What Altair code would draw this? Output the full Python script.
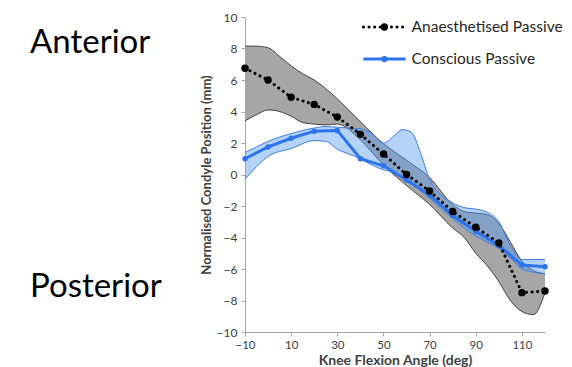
import altair as alt
import pandas as pd

# Mean curves
angles = [-10, 0, 10, 20, 30, 40, 50, 60, 70, 80, 90, 100, 110, 120]
anaesthetised = [6.75, 6.0, 4.9, 4.45, 3.65, 2.55, 1.3, 0.0, -1.05, -2.35, -3.35, -4.35, -7.5, -7.4]
conscious = [1.0, 1.75, 2.3, 2.75, 2.8, 1.0, 0.55, -0.35, -1.3, -2.6, -3.6, -4.5, -5.75, -5.85]

# Anaesthetised band
gray_x = [-10, -5, 0, 5, 10, 15, 20, 25, 30, 40, 50, 60, 70, 80, 85, 90, 95, 100, 105, 110, 115, 120]
gray_hi = [8.15, 8.15, 8.05, 7.5, 6.9, 6.4, 6.0, 5.45, 4.8, 3.35, 1.96, 0.9, -0.2, -1.9, -2.35, -2.45, -2.55, -3.1, -4.3, -5.5, -6.1, -6.3]
gray_lo = [3.4, 3.8, 4.1, 4.0, 3.7, 3.3, 3.2, 3.15, 3.2, 2.2, 0.6, -0.7, -1.9, -3.4, -4.0, -5.0, -5.8, -6.8, -8.0, -8.7, -8.9, -7.5]

# Conscious band
blue_x = [-10, -5, 0, 10, 20, 25, 30, 35, 40, 45, 50, 55, 58, 62, 66, 70, 80, 85, 90, 95, 100, 105, 110, 115, 120]
blue_hi = [1.4, 1.75, 2.1, 2.6, 2.95, 3.05, 3.0, 2.95, 2.9, 2.6, 2.0, 2.5, 2.85, 2.7, 1.4, -0.3, -1.8, -2.1, -2.2, -2.4, -3.0, -4.5, -5.4, -5.4, -5.4]
blue_lo = [-0.3, 0.5, 1.15, 1.65, 2.15, 2.1, 1.6, 1.3, 1.0, 0.6, 0.3, 0.1, -0.2, -0.6, -1.0, -1.5, -2.8, -3.4, -3.9, -4.3, -4.7, -5.3, -6.0, -6.2, -6.3]

x_ticks = [-10, 10, 30, 50, 70, 90, 110]
y_ticks = [-10, -8, -6, -4, -2, 0, 2, 4, 6, 8, 10]

legend_labels = ["Anaesthetised Passive", "Conscious Passive"]
legend_y = [9.37, 7.33]
legend_x0, legend_xm, legend_x1, legend_xt = 41.3, 50.4, 59.6, 62.2

BLUE = "#2b74ea"
FONT = "Lato"

mean_df = pd.DataFrame({"x": angles, "a": anaesthetised, "c": conscious})
gray_df = pd.DataFrame({"x": gray_x, "hi": gray_hi, "lo": gray_lo})
blue_df = pd.DataFrame({"x": blue_x, "hi": blue_hi, "lo": blue_lo})

xs = alt.Scale(domain=[-10, 120], nice=False, zero=False)
ys = alt.Scale(domain=[-10, 10], nice=False, zero=False)

X_AXIS = alt.Axis(
    title="Knee Flexion Angle (deg)", values=x_ticks, grid=False,
    labelFlush=False, labelOverlap=False,
    domainColor="#a6a6a6", tickColor="#a6a6a6", tickSize=4,
    labelColor="#404040", labelFontSize=11.5, labelFont=FONT, labelPadding=3,
    titleFont=FONT, titleFontSize=14, titleFontWeight="bold", titleColor="#404040", titlePadding=3)

Y_AXIS = alt.Axis(
    title="Normalised Condyle Position (mm)", values=y_ticks, grid=False,
    labelFlush=False, labelOverlap=False,
    domainColor="#a6a6a6", tickColor="#a6a6a6", tickSize=4,
    labelColor="#404040", labelFontSize=12, labelFont=FONT, labelPadding=4,
    titleFont=FONT, titleFontSize=13, titleFontWeight="bold", titleColor="#404040", titlePadding=3)


def xe(field="x:Q"):
    return alt.X(field, scale=xs, axis=X_AXIS)


def ye(field):
    return alt.Y(field, scale=ys, axis=Y_AXIS)


gray_area = alt.Chart(gray_df).mark_area(color="#a6a6a6", opacity=1, interpolate="monotone").encode(
    x=xe(), y=ye("hi:Q"), y2="lo:Q")
gray_hi_line = alt.Chart(gray_df).mark_line(color="#404040", strokeWidth=1, interpolate="monotone").encode(
    x=xe(), y=ye("hi:Q"))
gray_lo_line = alt.Chart(gray_df).mark_line(color="#404040", strokeWidth=1, interpolate="monotone").encode(
    x=xe(), y=ye("lo:Q"))

blue_area = alt.Chart(blue_df).mark_area(color="#5b9bf0", opacity=0.45, interpolate="monotone").encode(
    x=xe(), y=ye("hi:Q"), y2="lo:Q")
blue_hi_line = alt.Chart(blue_df).mark_line(color="#3d7ee6", strokeWidth=1, interpolate="monotone").encode(
    x=xe(), y=ye("hi:Q"))
blue_lo_line = alt.Chart(blue_df).mark_line(color="#3d7ee6", strokeWidth=1, interpolate="monotone").encode(
    x=xe(), y=ye("lo:Q"))

blue_line = alt.Chart(mean_df).mark_line(color=BLUE, strokeWidth=3).encode(
    x=xe(), y=ye("c:Q"))
blue_pts = alt.Chart(mean_df).mark_circle(color=BLUE, size=30, opacity=1).encode(
    x=xe(), y=ye("c:Q"))

black_line = alt.Chart(mean_df).mark_line(color="black", strokeWidth=3, strokeDash=[0.1, 5.5], strokeCap="round").encode(
    x=xe(), y=ye("a:Q"))
black_pts = alt.Chart(mean_df).mark_circle(color="black", size=55, opacity=1).encode(
    x=xe(), y=ye("a:Q"))

# legend (drawn in data space)
leg_df = pd.DataFrame({"label": legend_labels, "y": legend_y,
                       "x0": [legend_x0] * 2, "x1": [legend_x1] * 2,
                       "xm": [legend_xm] * 2, "xt": [legend_xt] * 2})
leg_a = leg_df.iloc[[0]]
leg_c = leg_df.iloc[[1]]
leg_black_line = alt.Chart(leg_a).mark_rule(color="black", strokeWidth=3, strokeDash=[0.1, 5.5], strokeCap="round").encode(
    x=xe("x0:Q"), x2="x1:Q", y=ye("y:Q"))
leg_black_pt = alt.Chart(leg_a).mark_circle(color="black", size=55, opacity=1).encode(
    x=xe("xm:Q"), y=ye("y:Q"))
leg_blue_line = alt.Chart(leg_c).mark_rule(color=BLUE, strokeWidth=3).encode(
    x=xe("x0:Q"), x2="x1:Q", y=ye("y:Q"))
leg_blue_pt = alt.Chart(leg_c).mark_circle(color=BLUE, size=40, opacity=1).encode(
    x=xe("xm:Q"), y=ye("y:Q"))
leg_text = alt.Chart(leg_df).mark_text(align="left", baseline="middle", font=FONT, fontSize=15.5, color="#262626").encode(
    x=xe("xt:Q"), y=ye("y:Q"), text="label:N")

side_df = pd.DataFrame({"t": ["Anterior", "Posterior"]})
anterior = alt.Chart(side_df.iloc[[0]]).mark_text(align="left", baseline="alphabetic", font=FONT, fontSize=33, color="black").encode(
    x=alt.value(-215), y=alt.value(36), text="t:N")
posterior = alt.Chart(side_df.iloc[[1]]).mark_text(align="left", baseline="alphabetic", font=FONT, fontSize=33, color="black").encode(
    x=alt.value(-215), y=alt.value(280), text="t:N")

chart = alt.layer(
    gray_area, gray_hi_line, gray_lo_line,
    blue_area, blue_hi_line, blue_lo_line,
    blue_line, blue_pts, black_line, black_pts,
    leg_black_line, leg_black_pt, leg_blue_line, leg_blue_pt, leg_text,
    anterior, posterior,
).properties(
    width=300, height=315,
    autosize=alt.AutoSizeParams(type="none"),
    padding={"left": 237, "top": 9, "right": 19, "bottom": 42},
).configure_view(stroke=None).configure_axis(labelOverlap=False)

chart.save("out.html", embed_options={"renderer": "svg", "actions": False})
